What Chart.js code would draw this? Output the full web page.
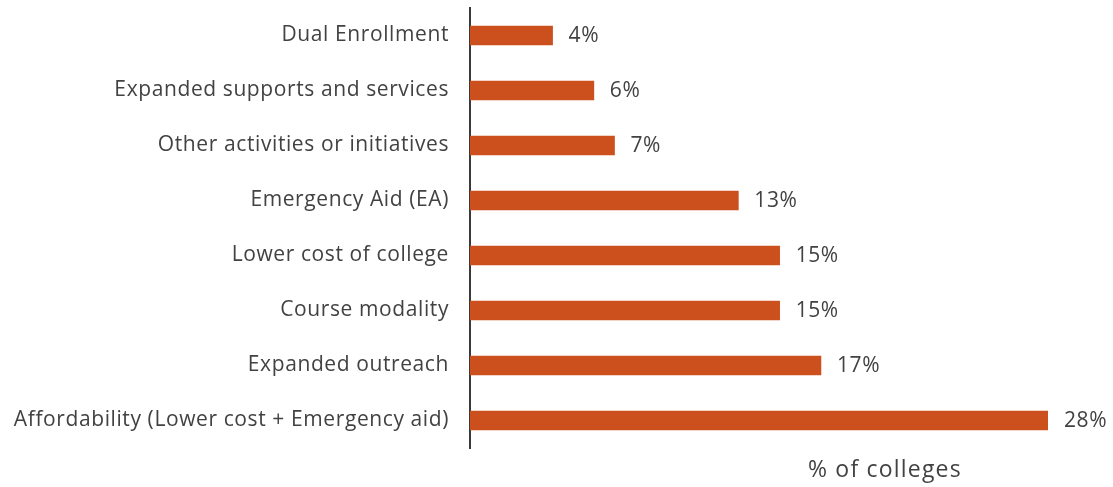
<!DOCTYPE html>
<html>
<head>
<meta charset="utf-8">
<script src="https://cdn.jsdelivr.net/npm/chart.js@4.4.1/dist/chart.umd.min.js"></script>
<style>
  html, body { margin: 0; padding: 0; background: #fff; }
  #wrap { width: 1113px; height: 487px; }
</style>
</head>
<body>
<div id="wrap"><canvas id="grafico"></canvas></div>
<script>
// Datos del gráfico
const categorias = [
  'Dual Enrollment',
  'Expanded supports and services',
  'Other activities or initiatives',
  'Emergency Aid (EA)',
  'Lower cost of college',
  'Course modality',
  'Expanded outreach',
  'Affordability (Lower cost + Emergency aid)'
];
const porcentajes = [4, 6, 7, 13, 15, 15, 17, 28];
const tituloEje = '% of colleges';

const colorBarra = '#CC501E';
const colorTexto = '#424242';
const fuente = '"Open Sans", Lato, sans-serif';

// Espaciado de letras un poco más abierto para todo el texto
const espaciado = {
  id: 'espaciado',
  beforeDraw(chart) {
    chart.ctx.letterSpacing = '0.6px';
  }
};

// Etiquetas de valor a la derecha de cada barra
const etiquetasValor = {
  id: 'etiquetasValor',
  afterDatasetsDraw(chart) {
    const ctx = chart.ctx;
    const meta = chart.getDatasetMeta(0);
    ctx.save();
    ctx.font = '21px ' + fuente;
    ctx.fillStyle = colorTexto;
    ctx.textAlign = 'left';
    ctx.textBaseline = 'middle';
    meta.data.forEach((bar, i) => {
      ctx.fillText(porcentajes[i] + '%', bar.x + 16, bar.y + 1);
    });
    // título del eje x
    const xs = chart.scales.x;
    ctx.font = '23px ' + fuente;
    ctx.letterSpacing = '1.2px';
    ctx.textAlign = 'center';
    ctx.fillText(tituloEje, xs.getPixelForValue(20.1), chart.chartArea.bottom + 22);
    ctx.restore();
  }
};

new Chart(document.getElementById('grafico').getContext('2d'), {
  type: 'bar',
  data: {
    labels: categorias,
    datasets: [{
      data: porcentajes,
      backgroundColor: colorBarra,
      barThickness: 19
    }]
  },
  options: {
    indexAxis: 'y',
    responsive: true,
    maintainAspectRatio: false,
    animation: false,
    layout: { padding: { top: 8, bottom: 39, right: 65, left: 0 } },
    plugins: {
      legend: { display: false },
      tooltip: { enabled: false }
    },
    scales: {
      x: {
        display: false,
        min: 0,
        max: 28
      },
      y: {
        grid: { display: false },
        border: { display: true, color: '#3a3a3a', width: 2 },
        ticks: {
          color: colorTexto,
          font: { family: fuente, size: 21 },
          padding: 13
        },
        afterFit(scale) {
          scale.width = 470;
          scale.paddingTop = 0;
          scale.paddingBottom = 0;
        }
      }
    }
  },
  plugins: [espaciado, etiquetasValor]
});
</script>
</body>
</html>
